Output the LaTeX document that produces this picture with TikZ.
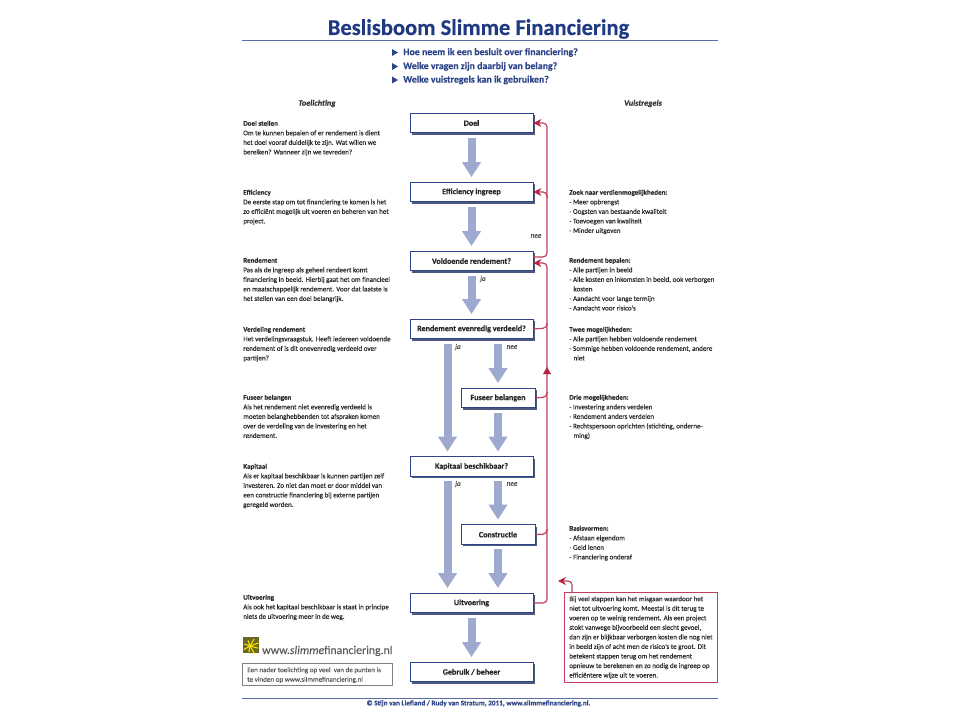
\documentclass[tikz,border=0pt]{standalone}
\usepackage{fontspec}
\setmainfont{Carlito}[FakeBold=0.12]
\newfontfamily\heavyfont[BoldFeatures={FakeBold=0.35}]{Carlito}
\usetikzlibrary{arrows.meta,shadows,calc}
\definecolor{navy}{HTML}{1F3A82}
\definecolor{navyb}{HTML}{2E4488}
\definecolor{rulec}{HTML}{5A6CA6}
\definecolor{blk}{HTML}{9DA9CF}
\definecolor{redd}{HTML}{B8213F}
\definecolor{redl}{HTML}{C0405C}
\definecolor{txt}{HTML}{2A2A2A}
\newcommand{\notesize}{\fontsize{5.3}{7.16}\selectfont}
\tikzset{
  x=0.75pt,y=-0.75pt,
  flowbox/.style={draw=navyb,line width=0.6pt,fill=white,minimum height=14.6pt,inner sep=0pt,
    font=\heavyfont\fontsize{6.05}{7}\selectfont\bfseries,text=black!85,
    drop shadow={shadow xshift=1.6pt,shadow yshift=-1.6pt,fill=navyb!70!black,opacity=0.8}},
  widebox/.style={flowbox,minimum width=92.25pt},
  smallbox/.style={flowbox,minimum width=55.5pt},
  blockarrow/.style={draw=blk,line width=6pt,shorten <=3.6pt,shorten >=3.6pt,
    -{Triangle[width=13.5pt,length=11.2pt,fill=blk]}},
  redline/.style={draw=redl,line width=0.9pt,rounded corners=3pt},
  redtip/.style={-{Stealth[width=6pt,length=6pt,color=redd]}},
  note/.style={anchor=north west,inner sep=0pt,align=left,font=\notesize,text=txt},
  branch/.style={inner sep=0pt,font=\fontsize{5.5}{7}\selectfont\itshape,text=black!70},
  head/.style={inner sep=0pt,font=\fontsize{6.2}{7}\selectfont\bfseries\itshape,text=black!80},
  quest/.style={anchor=west,inner sep=0pt,font=\heavyfont\fontsize{7.4}{9}\selectfont\bfseries,text=navyb},
  rulel/.style={draw=rulec,line width=0.7pt},
}
\begin{document}
\begin{tikzpicture}
\useasboundingbox[fill=white] (0,0) rectangle (960,720);
% title
\node[anchor=base,inner sep=0pt,text=navy,font=\heavyfont\fontsize{16.9}{20}\selectfont\bfseries] (title) at (478.5,35) {Beslisboom Slimme Financiering};
\coordinate (tl) at (242,40); \coordinate (tr) at (718,40);
\draw[rulel] (tl) -- (tr);
\node[quest] (q1) at (403,52.5) {Hoe neem ik een besluit over financiering?};
\node[quest] (q2) at (403,66.5) {Welke vragen zijn daarbij van belang?};
\node[quest] (q3) at (403,80) {Welke vuistregels kan ik gebruiken?};
\foreach \n in {q1,q2,q3}{
  \fill[navyb] ($(\n.west)+(-11,-3.5)$) -- ($(\n.west)+(-11,3.5)$) -- ($(\n.west)+(-5,0)$) -- cycle;
}
\node[head] (hl) at (317,103.5) {Toelichting};
\node[head] (hr) at (643,103.5) {Vuistregels};
% boxes
\node[widebox] (doel) at (471.5,123) {Doel};
\node[widebox] (eff) at (471.5,192) {Efficiency ingreep};
\node[widebox] (vol) at (471.5,261) {Voldoende rendement?};
\node[widebox] (rev) at (471.5,329) {Rendement evenredig verdeeld?};
\node[smallbox] (fus) at (498,398) {Fuseer belangen};
\node[widebox] (kap) at (471.5,466.5) {Kapitaal beschikbaar?};
\node[smallbox] (con) at (498,534.5) {Constructie};
\node[widebox] (uit) at (471.5,603) {Uitvoering};
\node[widebox] (geb) at (471.5,672) {Gebruik / beheer};
% block arrows
\coordinate (ja1) at (447.5,339);
\coordinate (ja2) at (447.5,476.5);
\draw[blockarrow] (doel.south) -- (eff.north);
\draw[blockarrow] (eff.south) -- (vol.north);
\draw[blockarrow] (vol.south) -- (rev.north);
\draw[blockarrow] (ja1) -- (ja1 |- kap.north);
\draw[blockarrow] (fus.north |- rev.south) -- (fus.north);
\draw[blockarrow] (fus.south) -- (fus.south |- kap.north);
\draw[blockarrow] (ja2) -- (ja2 |- uit.north);
\draw[blockarrow] (con.north |- kap.south) -- (con.north);
\draw[blockarrow] (con.south) -- (con.south |- uit.north);
\draw[blockarrow] (uit.south) -- (geb.north);
% branch labels
\node[branch] (lnee) at (536,236) {nee};
\node[branch] (lja) at (483,279) {ja};
\node[branch] (lja1) at (458,347) {ja};
\node[branch] (lnee1) at (512,347) {nee};
\node[branch] (lja2) at (458,484) {ja};
\node[branch] (lnee2) at (512,484) {nee};
% red feedback lines
\coordinate (r1) at (547,123);
\coordinate (r2) at (547,192);
\coordinate (r2b) at (547,198);
\coordinate (r3) at (547,257);
\coordinate (r4) at (547,263);
\coordinate (r5) at (547,328);
\coordinate (r5b) at (547,323);
\coordinate (r6) at (547,397);
\coordinate (r6b) at (547,392);
\coordinate (r7) at (547,534);
\coordinate (r7b) at (547,529);
\coordinate (r8) at (547,603);
\coordinate (rmid) at (547,374);
\coordinate (rmidt) at (547,367);
\draw[redline,redtip] (vol.east |- r3) -- (r3) -- (r1) -- (doel.east);
\draw[redline,redtip] (r2b) -- (r2) -- (eff.east);
\draw[redline,redtip] (uit.east) -- (r8) -- (r4) -- (vol.east |- r4);
\draw[redline] (rev.east) -- (r5) -- (r5b);
\draw[redline] (fus.east) -- (r6) -- (r6b);
\draw[redline] (con.east) -- (r7) -- (r7b);
\fill[redd] (rmidt) -- ($(rmid)+(-4,0)$) -- ($(rmid)+(4,0)$) -- cycle;
% red box
\node[draw=redl,line width=0.7pt,fill=white,minimum width=114.75pt,minimum height=67.5pt,inner sep=0pt] (rbox) at (640.5,637) {};
\coordinate (rb1) at (572,592);
\coordinate (rb2) at (572,581);
\coordinate (rb3) at (558,581);
\draw[redline,redtip] (rb1) -- (rb2) -- (rb3);
\node[note] (rtext) at (569,596) {Bij veel stappen kan het misgaan waardoor het\\niet tot uitvoering komt. Meestal is dit terug te\\voeren op te weinig rendement. Als een project\\stokt vanwege bijvoorbeeld een slecht gevoel,\\dan zijn er blijkbaar verborgen kosten die nog niet\\in beeld zijn of acht men de risico's te groot. Dit\\betekent stappen terug om het rendement\\opnieuw te berekenen en zo nodig de ingreep op\\efficiëntere wijze uit te voeren.};
% left notes
\node[note] (n1) at (243,120.5) {\textbf{Doel stellen}\\Om te kunnen bepalen of er rendement is dient\\het doel vooraf duidelijk te zijn. Wat willen we\\bereiken? Wanneer zijn we tevreden?};
\node[note] (n2) at (243,189.5) {\textbf{Efficiency}\\De eerste stap om tot financiering te komen is het\\zo efficiënt mogelijk uit voeren en beheren van het\\project.};
\node[note] (n3) at (243,257.5) {\textbf{Rendement}\\Pas als de ingreep als geheel rendeert komt\\financiering in beeld. Hierbij gaat het om financieel\\en maatschappelijk rendement. Voor dat laatste is\\het stellen van een doel belangrijk.};
\node[note] (n4) at (243,326.5) {\textbf{Verdeling rendement}\\Het verdelingsvraagstuk. Heeft iedereen voldoende\\rendement of is dit onevenredig verdeeld over\\partijen?};
\node[note] (n5) at (243,394.5) {\textbf{Fuseer belangen}\\Als het rendement niet evenredig verdeeld is\\moeten belanghebbenden tot afspraken komen\\over de verdeling van de investering en het\\rendement.};
\node[note] (n6) at (243,463.5) {\textbf{Kapitaal}\\Als er kapitaal beschikbaar is kunnen partijen zelf\\investeren. Zo niet dan moet er door middel van\\een constructie financiering bij externe partijen\\geregeld worden.};
\node[note] (n7) at (243,594.5) {\textbf{Uitvoering}\\Als ook het kapitaal beschikbaar is staat in principe\\niets de uitvoering meer in de weg.};
% right notes
\node[note] (v1) at (569,189.5) {\textbf{Zoek naar verdienmogelijkheden:}\\- Meer opbrengst\\- Oogsten van bestaande kwaliteit\\- Toevoegen van kwaliteit\\- Minder uitgeven};
\node[note] (v2) at (569,257.5) {\textbf{Rendement bepalen:}\\- Alle partijen in beeld\\- Alle kosten en inkomsten in beeld, ook verborgen\\\hspace*{3.2pt}kosten\\- Aandacht voor lange termijn\\- Aandacht voor risico's};
\node[note] (v3) at (569,326.5) {\textbf{Twee mogelijkheden:}\\- Alle partijen hebben voldoende rendement\\- Sommige hebben voldoende rendement, andere\\\hspace*{3.2pt}niet};
\node[note] (v4) at (569,394.5) {\textbf{Drie mogelijkheden:}\\- Investering anders verdelen\\- Rendement anders verdelen\\- Rechtspersoon oprichten (stichting, onderne-\\\hspace*{3.2pt}ming)};
\node[note] (v5) at (569,525.5) {\textbf{Basisvormen:}\\- Afstaan eigendom\\- Geld lenen\\- Financiering onderaf};
% logo
\fill[olive!70!black] (243,637) rectangle (259,653);
\coordinate (lc) at (250,646);
\foreach \a/\l in {15/8,60/9,100/6,150/7,200/6,250/6,300/8,340/9}{
  \draw[yellow!85!orange,line width=0.8pt] (lc) -- ++(\a:\l);
}
\node[anchor=base west,inner sep=0pt,text=black!65,font=\fontsize{8.85}{12}\selectfont] (web) at (262,654) {www.\textit{slimme}financiering.nl};
\node[draw=black!50,line width=0.5pt,minimum width=112.5pt,minimum height=16.5pt,inner sep=0pt] (gbox) at (317,674) {};
\node[note,text=black!65] (gtext) at (247,667) {Een nader toelichting op veel\ \ van de punten is\\te vinden op www.slimmefinanciering.nl};
% footer
\coordinate (bl) at (242,698); \coordinate (br) at (718,698);
\draw[rulel] (bl) -- (br);
\node[inner sep=0pt,text=navyb,font=\fontsize{5.4}{7}\selectfont\bfseries] (foot) at (478.5,703.5) {© Stijn van Liefland / Rudy van Stratum, 2011, www.slimmefinanciering.nl.};
\end{tikzpicture}
\end{document}
